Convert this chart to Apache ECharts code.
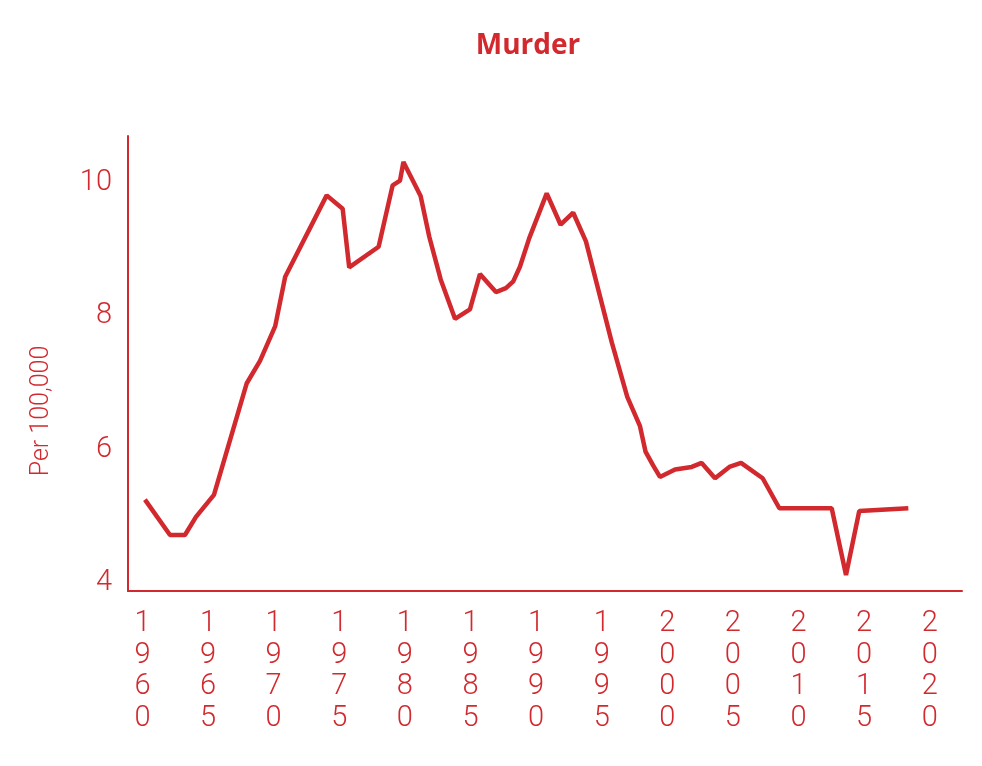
<!DOCTYPE html>
<html>
<head>
<meta charset="utf-8">
<script src="https://cdn.jsdelivr.net/npm/echarts@6/dist/echarts.min.js"></script>
<style>
html,body{margin:0;padding:0;background:#fff;}
#chart{width:982px;height:766px;}
</style>
</head>
<body>
<div id="chart"></div>
<script>
const years = [1960.19, 1962.10, 1963.24, 1964.08, 1965.45, 1967.94, 1968.96, 1970.12, 1970.88, 1974.04,
  1975.26, 1975.76, 1978.00, 1979.07, 1979.63, 1979.89, 1981.20, 1981.86, 1982.73, 1983.82,
  1984.96, 1985.72, 1986.94, 1987.70, 1988.26, 1988.77, 1989.48, 1990.81, 1991.87, 1992.83,
  1993.80, 1995.78, 1996.95, 1997.92, 1998.34, 1998.93, 1999.44, 2000.59, 2001.86, 2002.62,
  2003.64, 2004.73, 2005.62, 2007.27, 2008.54, 2012.53, 2013.62, 2014.63, 2018.37];
const rates = [5.25, 4.72, 4.72, 4.99, 5.32, 6.99, 7.33, 7.85, 8.59, 9.81,
  9.61, 8.73, 9.04, 9.96, 10.03, 10.31, 9.80, 9.19, 8.55, 7.96,
  8.10, 8.63, 8.36, 8.42, 8.52, 8.74, 9.17, 9.84, 9.37, 9.55,
  9.12, 7.60, 6.79, 6.35, 5.97, 5.76, 5.59, 5.70, 5.74, 5.80,
  5.57, 5.74, 5.80, 5.57, 5.12, 5.12, 4.12, 5.08, 5.12];
const xTickYears = [1960, 1965, 1970, 1975, 1980, 1985, 1990, 1995, 2000, 2005, 2010, 2015, 2020];
const yTicks = [4, 6, 8, 10];
const titleText = 'Murder';
const yAxisTitle = 'Per 100,000';

const RED = '#d2292e';
const FONT = 'Roboto, sans-serif';

const chart = echarts.init(document.getElementById('chart'), null, {renderer: 'canvas'});
chart.setOption({
  backgroundColor: '#ffffff',
  animation: false,
  title: {
    text: titleText,
    left: 523,
    top: 27,
    textAlign: 'center',
    textStyle: {color: RED, fontFamily: '"Open Sans", sans-serif', fontWeight: 700, fontSize: 28}
  },
  graphic: [{
    type: 'text',
    x: 42, y: 411,
    rotation: Math.PI / 2,
    style: {text: yAxisTitle, fill: RED, font: '300 25px ' + FONT, textAlign: 'center', textVerticalAlign: 'middle'}
  }],
  grid: {left: 128, right: 20, top: 136, bottom: 175, containLabel: false},
  xAxis: {
    type: 'value',
    min: 1958.9,
    max: 2022.46,
    splitLine: {show: false},
    axisTick: {show: false},
    axisLine: {show: true, lineStyle: {color: RED, width: 2}},
    axisLabel: {
      customValues: xTickYears,
      color: RED,
      fontFamily: FONT,
      fontWeight: 300,
      fontSize: 29,
      lineHeight: 31.5,
      margin: 17,
      formatter: v => String(Math.round(v)).split('').join('\n')
    }
  },
  yAxis: {
    type: 'value',
    min: 3.88,
    max: 10.7,
    splitLine: {show: false},
    axisTick: {show: false},
    axisLine: {show: true, lineStyle: {color: RED, width: 2}},
    axisLabel: {
      customValues: yTicks,
      color: RED,
      fontFamily: FONT,
      fontWeight: 300,
      fontSize: 29,
      margin: 16
    }
  },
  series: [{
    type: 'line',
    data: years.map((y, i) => [y, rates[i]]),
    showSymbol: false,
    symbol: 'none',
    lineStyle: {color: RED, width: 4.5},
    silent: true
  }]
});
</script>
</body>
</html>
